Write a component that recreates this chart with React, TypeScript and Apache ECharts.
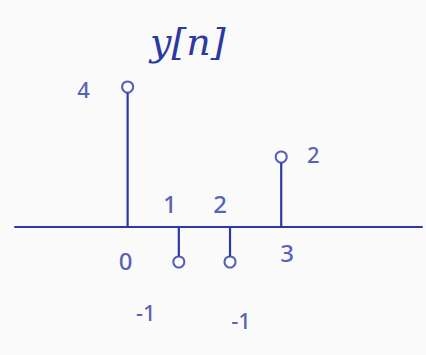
import { useEffect, useRef } from "react";
import * as echarts from "echarts";

// Discrete-time sequence y[n] drawn as a stem plot
const nIndex = [0, 1, 2, 3];
const yValues = [4, -1, -1, 2];
const valueLabels = ["4", "-1", "-1", "2"];
const indexLabels = ["0", "1", "2", "3"];
const titleText = "y[n]";

const INK = "#2b3aa3";
const PAPER = "#fafafa";

// Label placement for each sample's value text (pixels from the stem tip)
const valueOffsets: [number, number][] = [
  [-44, 2],
  [-33, 50],
  [11, 58],
  [32, -3],
];
// Label placement for each index text (pixels from the axis crossing)
const indexOffsets: [number, number][] = [
  [-2, 33],
  [-9, -24],
  [-10, -24],
  [6, 25],
];

const MARKER = 11;

export default function App() {
  const ref = useRef<HTMLDivElement>(null);

  useEffect(() => {
    if (!ref.current) return;
    const chart = echarts.init(ref.current, undefined, { renderer: "svg" });

    const stemData = nIndex.map((n, i) => [n, yValues[i]]);

    chart.setOption({
      animation: false,
      backgroundColor: PAPER,
      title: {
        text: titleText,
        left: 145,
        top: 18,
        textStyle: {
          fontFamily: "DejaVu Serif",
          fontStyle: "italic",
          fontWeight: "normal",
          fontSize: 38,
          color: INK,
        },
      },
      grid: { left: 15, width: 407, top: 17, height: 336 },
      xAxis: {
        type: "value",
        min: -2.2,
        max: 5.75,
        axisLine: { show: true, onZero: true, lineStyle: { color: INK, width: 2 } },
        axisTick: { show: false },
        axisLabel: { show: false },
        splitLine: { show: false },
      },
      yAxis: {
        type: "value",
        min: -3.6,
        max: 6,
        show: false,
        splitLine: { show: false },
      },
      series: [
        {
          type: "custom",
          name: "stems",
          data: stemData,
          renderItem: (_params: any, api: any) => {
            const x = api.value(0);
            const v = api.value(1);
            const base = api.coord([x, 0]);
            const tip = api.coord([x, v]);
            const r = MARKER / 2;
            const dir = v >= 0 ? 1 : -1;
            return {
              type: "line",
              shape: { x1: base[0], y1: base[1], x2: tip[0], y2: tip[1] + dir * r },
              style: { stroke: INK, lineWidth: 2.2 },
            };
          },
          z: 2,
        },
        {
          type: "scatter",
          name: "samples",
          symbol: "emptyCircle",
          symbolSize: MARKER,
          itemStyle: { color: INK, borderColor: INK, borderWidth: 2.2 },
          data: stemData.map((d, i) => ({
            value: d,
            label: {
              show: true,
              position: "inside",
              offset: valueOffsets[i],
              formatter: valueLabels[i],
              color: INK,
              fontFamily: "Noto Sans",
              fontWeight: 500,
              fontSize: 22,
            },
          })),
          z: 3,
        },
        {
          type: "scatter",
          name: "indices",
          symbolSize: 0,
          itemStyle: { color: "transparent" },
          data: nIndex.map((n, i) => ({
            value: [n, 0],
            label: {
              show: true,
              position: "inside",
              offset: indexOffsets[i],
              formatter: indexLabels[i],
              color: INK,
              fontFamily: "Noto Sans",
              fontWeight: 500,
              fontSize: 24,
            },
          })),
          z: 3,
        },
      ],
    });

    return () => chart.dispose();
  }, []);

  return (
    <div
      ref={ref}
      style={{ position: "fixed", left: 0, top: 0, width: 426, height: 355 }}
    />
  );
}
